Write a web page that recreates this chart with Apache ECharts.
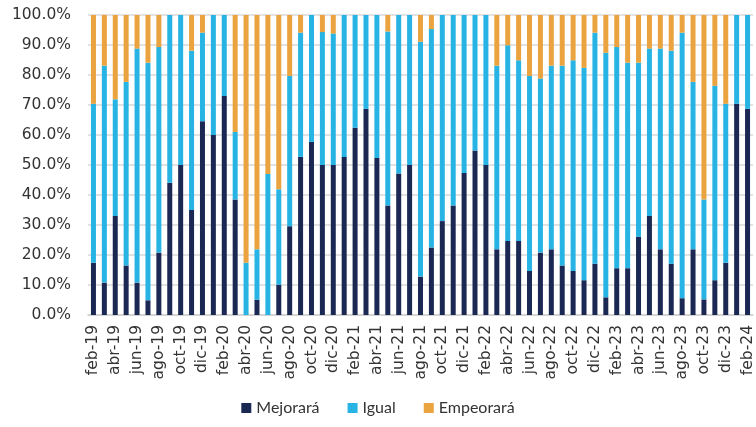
<!DOCTYPE html>
<html>
<head>
<meta charset="utf-8">
<script src="https://cdn.jsdelivr.net/npm/echarts@6/dist/echarts.min.js"></script>
<style>
  html, body { margin: 0; padding: 0; background: #fff; }
  #chart { width: 756px; height: 427px; }
</style>
</head>
<body>
<div id="chart"></div>
<script>
// meses (feb-19 .. feb-24)
const months = [
  'feb-19', 'mar-19', 'abr-19', 'may-19', 'jun-19', 'jul-19', 'ago-19', 'sep-19', 'oct-19', 'nov-19', 'dic-19',
  'ene-20', 'feb-20', 'mar-20', 'abr-20', 'may-20', 'jun-20', 'jul-20', 'ago-20', 'sep-20', 'oct-20', 'nov-20', 'dic-20',
  'ene-21', 'feb-21', 'mar-21', 'abr-21', 'may-21', 'jun-21', 'jul-21', 'ago-21', 'sep-21', 'oct-21', 'nov-21', 'dic-21',
  'ene-22', 'feb-22', 'mar-22', 'abr-22', 'may-22', 'jun-22', 'jul-22', 'ago-22', 'sep-22', 'oct-22', 'nov-22', 'dic-22',
  'ene-23', 'feb-23', 'mar-23', 'abr-23', 'may-23', 'jun-23', 'jul-23', 'ago-23', 'sep-23', 'oct-23', 'nov-23', 'dic-23',
  'ene-24', 'feb-24'
]

// porcentajes por categoría
const mejorara = [
  17.4, 10.8, 33.0, 16.5, 10.8, 4.9, 20.8, 44.1, 50.0, 35.0, 64.6,
  60.0, 73.0, 38.5, 0, 5.1, 0, 10.1, 29.6, 52.7, 57.7, 50.0, 50.0,
  52.7, 62.4, 68.7, 52.3, 36.5, 47.2, 50.0, 12.8, 22.5, 31.3, 36.5, 47.3,
  54.8, 50.0, 21.9, 24.7, 24.7, 14.7, 20.8, 21.9, 16.5, 14.7, 11.6, 17.1,
  5.9, 15.6, 15.6, 26.1, 33.0, 21.9, 17.1, 5.6, 21.9, 5.2, 11.6, 17.4,
  70.4, 68.7
]
const igual = [
  53.0, 72.3, 38.9, 61.2, 78.0, 79.2, 68.5, 55.9, 50.0, 53.1, 29.5,
  40.0, 27.0, 22.5, 17.4, 16.8, 47.0, 31.8, 50.1, 41.4, 42.3, 44.3, 43.8,
  47.3, 37.6, 31.3, 47.7, 58.0, 52.8, 50.0, 78.3, 72.8, 68.7, 63.5, 52.7,
  45.2, 50.0, 61.2, 65.2, 60.2, 65.0, 58.0, 61.2, 66.6, 70.2, 70.8, 77.0,
  81.5, 73.7, 68.5, 58.0, 55.8, 66.9, 71.0, 88.5, 55.8, 33.3, 64.8, 53.0,
  29.6, 31.3
]
const empeorara = [
  29.6, 16.9, 28.1, 22.3, 11.2, 15.9, 10.7, 0, 0, 11.9, 5.9,
  0, 0, 39.0, 82.6, 78.1, 53.0, 58.1, 20.3, 5.9, 0, 5.7, 6.2,
  0, 0, 0, 0, 5.5, 0, 0, 8.9, 4.7, 0, 0, 0,
  0, 0, 16.9, 10.1, 15.1, 20.3, 21.2, 16.9, 16.9, 15.1, 17.6, 5.9,
  12.6, 10.7, 15.9, 15.9, 11.2, 11.2, 11.9, 5.9, 22.3, 61.5, 23.6, 29.6,
  0, 0
]

const legendFont = 'Lato, "Open Sans", sans-serif'
const axisFont = '"DejaVu Sans", Verdana, sans-serif'
const textColor = '#333333'

const chart = echarts.init(document.getElementById('chart'))

const option = {
  animation: false,
  grid: { left: 88, right: 3, top: 15, bottom: 112, containLabel: false },
  legend: {
    bottom: 6,
    left: 'center',
    icon: 'rect',
    itemWidth: 10,
    itemHeight: 10,
    itemGap: 28,
    textStyle: { fontSize: 16, color: textColor, fontFamily: legendFont },
    data: ['Mejorará', 'Igual', 'Empeorará']
  },
  xAxis: {
    type: 'category',
    data: months,
    axisLine: { lineStyle: { color: '#d0d0d0', width: 1.5 } },
    axisTick: { show: false },
    axisLabel: {
      interval: 1,
      rotate: 90,
      margin: 10,
      fontSize: 15.5,
      fontFamily: axisFont,
      color: textColor
    }
  },
  yAxis: {
    type: 'value',
    min: 0,
    max: 100,
    interval: 10,
    axisLine: { show: false },
    axisTick: { show: false },
    splitLine: { lineStyle: { color: '#d9d9d9', width: 1.5 } },
    axisLabel: {
      margin: 17,
      fontSize: 15.5,
      fontFamily: axisFont,
      color: textColor,
      formatter: v => v.toFixed(1) + '%'
    }
  },
  series: [
    { name: 'Mejorará', type: 'bar', stack: 'total', barWidth: 5, data: mejorara, itemStyle: { color: '#1c2854' } },
    { name: 'Igual', type: 'bar', stack: 'total', barWidth: 5, data: igual, itemStyle: { color: '#27b4e4' } },
    { name: 'Empeorará', type: 'bar', stack: 'total', barWidth: 5, data: empeorara, itemStyle: { color: '#eaa33e' } }
  ]
}

chart.setOption(option)
</script>
</body>
</html>
